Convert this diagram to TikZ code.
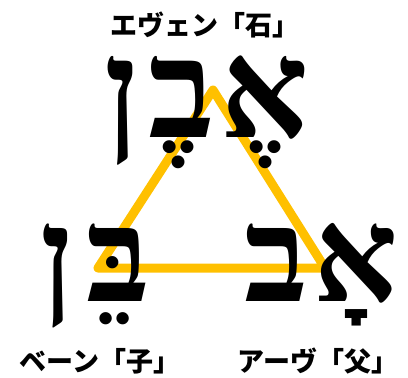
\documentclass[tikz,border=0pt]{standalone}
\usepackage{fontspec}
\TeXXeTstate=1
\newfontfamily\hebfont[Script=Hebrew]{Liberation Serif}
\newfontfamily\jpfont{Noto Sans CJK JP}
\definecolor{triyellow}{RGB}{255,192,0}
\tikzset{
  heb/.style={font=\hebfont\bfseries\fontsize{138}{138}\selectfont, anchor=base, inner sep=0pt},
  hebsmall/.style={font=\hebfont\bfseries\fontsize{132}{132}\selectfont, anchor=base, inner sep=0pt},
  jplabel/.style={font=\jpfont\bfseries\fontsize{27}{27}\selectfont, anchor=center, inner sep=0pt},
  tri/.style={draw=triyellow, line width=9pt, line join=round}
}
\begin{document}
\begin{tikzpicture}[x=1pt,y=-1pt]
\useasboundingbox (0,0) rectangle (408,378);
\coordinate (A) at (213,90);
\coordinate (B) at (325,268);
\coordinate (C) at (98,268);
\draw[tri] (A) -- (B) -- (C) -- cycle;
% top word: even
\node[heb] (even1) at (265,137) {\beginR אֶ\endR};
\node[heb] (even2) at (182,137) {\beginR בֶ\endR};
\node[heb] (even3) at (122,137) {\beginR ן\endR};
% bottom left: ben
\node[hebsmall] (ben1) at (118,301) {\beginR בֵּ\endR};
\node[hebsmall] (ben2) at (57,301) {\beginR ן\endR};
% bottom right: av
\node[hebsmall] (av1) at (356,301) {\beginR אָ\endR};
\node[hebsmall] (av2) at (276,301) {\beginR ב\endR};
\node[jplabel] (leven) at (205,25) {エヴェン「石」};
\node[jplabel] (lben) at (100,361) {ベーン「子」};
\node[jplabel] (lav) at (318,361) {アーヴ「父」};
\end{tikzpicture}
\end{document}
